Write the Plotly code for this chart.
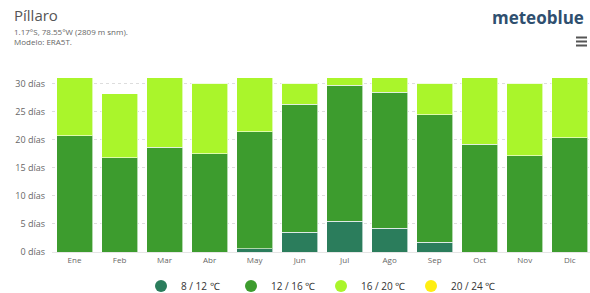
import plotly.graph_objects as go

months = ["Ene", "Feb", "Mar", "Abr", "May", "Jun", "Jul", "Ago", "Sep", "Oct", "Nov", "Dic"]
d_8_12 = [0, 0, 0, 0, 0.6, 3.5, 5.5, 4.2, 1.7, 0, 0, 0]
d_12_16 = [20.7, 16.8, 18.6, 17.5, 20.8, 22.8, 24.2, 24.2, 22.7, 19.2, 17.1, 20.3]
d_16_20 = [10.3, 11.4, 12.4, 12.5, 9.6, 3.7, 1.3, 2.6, 5.6, 11.8, 12.9, 10.7]
d_20_24 = [0, 0, 0, 0, 0, 0, 0, 0, 0, 0, 0, 0]

series = [
    ("8 / 12 ℃", d_8_12, "#2b7d5c"),
    ("12 / 16 ℃", d_12_16, "#3d9c2e"),
    ("16 / 20 ℃", d_16_20, "#aaf52b"),
    ("20 / 24 ℃", d_20_24, "#ffee11"),
]

yticks = [0, 5, 10, 15, 20, 25, 30]
ytext = [f"{v} días" for v in yticks]

fig = go.Figure()
for name, vals, col in series:
    fig.add_trace(go.Bar(
        x=months, y=vals, name=name, showlegend=False,
        marker=dict(color=col, line=dict(color="rgba(255,255,255,0.6)", width=1)),
    ))
for name, vals, col in series:
    fig.add_trace(go.Scatter(
        x=[None], y=[None], mode="markers", name=name,
        marker=dict(color=col, size=9, symbol="circle"),
    ))

fig.update_layout(
    width=590, height=293,
    margin=dict(l=52, r=0, t=75, b=41),
    barmode="stack", bargap=0.2,
    paper_bgcolor="white", plot_bgcolor="white",
    font=dict(family="Open Sans, sans-serif", color="#666", size=9),
    showlegend=True,
    legend=dict(orientation="h", x=0.5, xanchor="center", xref="paper",
                y=0.024, yanchor="middle", yref="container", traceorder="normal",
                font=dict(size=10, color="#333"), entrywidth=45, itemwidth=30,
                itemsizing="constant"),
    xaxis=dict(range=[-0.5, 11.45], showgrid=False, showline=True, linecolor="#e6e6e6",
               tickfont=dict(size=8, color="#666"), ticks="", fixedrange=True),
    yaxis=dict(range=[0, 31.5], tickvals=yticks, ticktext=ytext, showgrid=True,
               gridcolor="#dddddd", griddash="dot", zeroline=False,
               tickfont=dict(size=9, color="#666"), ticks="", ticklabelstandoff=6),
)

fig.add_annotation(xref="paper", yref="paper", x=-0.075, y=1.0, yshift=60, xanchor="left", yanchor="middle",
                   text="Píllaro", showarrow=False, font=dict(size=15, color="#555"))
fig.add_annotation(xref="paper", yref="paper", x=-0.075, y=1.0, yshift=44, xanchor="left", yanchor="middle",
                   text="1.17°S, 78.55°W (2809 m snm).", showarrow=False, font=dict(size=8, color="#666"))
fig.add_annotation(xref="paper", yref="paper", x=-0.075, y=1.0, yshift=34, xanchor="left", yanchor="middle",
                   text="Modelo: ERA5T.", showarrow=False, font=dict(size=8, color="#666"))
fig.add_annotation(xref="paper", yref="paper", x=1.0, y=1.0, yshift=58, xshift=-4, xanchor="right", yanchor="middle",
                   text="<b>meteoblue</b>", showarrow=False,
                   font=dict(size=17, color="#2f4f6f", family="Open Sans, sans-serif"))
for yy in (37.5, 41.5, 45.5):
    fig.add_shape(type="line", xref="x domain", yref="paper",
                  x0=(576 - 52) / 538, x1=(587 - 52) / 538,
                  y0=(252 - yy) / 177, y1=(252 - yy) / 177,
                  line=dict(color="#555", width=2))

fig.write_html("out.html", config={"displayModeBar": False},
               post_script="document.body.style.margin='0';document.body.style.padding='0';")
